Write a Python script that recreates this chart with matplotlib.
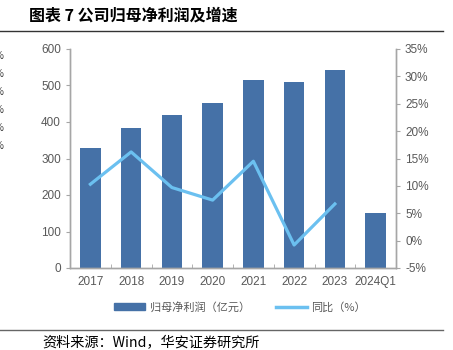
import matplotlib
matplotlib.use("Agg")
import matplotlib.pyplot as plt
import numpy as np
from matplotlib.lines import Line2D
from matplotlib.patches import Patch

plt.rcParams['font.family'] = ['Noto Sans CJK SC', 'DejaVu Sans']

# 数据
years = ['2017', '2018', '2019', '2020', '2021', '2022', '2023', '2024Q1']
profit = [330, 383, 420, 451, 515, 510, 543, 150]      # 归母净利润（亿元）
growth = [10.3, 16.2, 9.7, 7.4, 14.5, -0.8, 6.7]       # 同比（%）
left_ticks = [0, 100, 200, 300, 400, 500, 600]
right_ticks = [-5, 0, 5, 10, 15, 20, 25, 30, 35]

bar_color = '#4571a7'
line_color = '#6bc0f0'
tick_color = '#595959'
spine_color = '#a6a6a6'
num_font = 'Liberation Sans'

fig = plt.figure(figsize=(4.53, 3.5), dpi=100)
ax = fig.add_axes([70 / 453, 1 - 268 / 350, 326 / 453, 219 / 350])
x = np.arange(len(years))
ax.bar(x, profit, width=0.5, color=bar_color, zorder=2)
ax.set_xlim(-0.5, len(years) - 0.5)
ax.set_ylim(0, 600)
ax.set_yticks(left_ticks)
ax.set_xticks(x)
ax.set_xticklabels(years)
ax.set_xticks(np.arange(len(years) + 1) - 0.5, minor=True)
ax.tick_params(axis='x', which='major', length=0, pad=6)
ax.tick_params(axis='x', which='minor', length=3, direction='in', color=spine_color)
ax.tick_params(axis='y', length=3, color=spine_color)
ax.tick_params(labelsize=8.5, labelcolor=tick_color)

ax2 = ax.twinx()
ax2.plot(x[:len(growth)], growth, color=line_color, lw=2.3, zorder=3)
ax2.set_ylim(-5, 35)
ax2.set_yticks(right_ticks)
ax2.set_yticklabels([f'{t}%' for t in right_ticks])
ax2.tick_params(axis='y', length=3, color=spine_color, labelsize=8.5, labelcolor=tick_color)

for a in (ax, ax2):
    a.spines['top'].set_visible(False)
    for s in ('left', 'right', 'bottom'):
        a.spines[s].set_color(spine_color)
        a.spines[s].set_linewidth(1)
    for lab in a.get_xticklabels() + a.get_yticklabels():
        lab.set_fontfamily(num_font)

# 图例
handles = [Patch(color=bar_color), Line2D([], [], color=line_color, lw=2.5)]
fig.legend(handles, ['归母净利润（亿元）', '同比（%）'], loc='center',
           bbox_to_anchor=(240 / 453, 1 - 307 / 350), ncol=2, frameon=False,
           fontsize=8, labelcolor=tick_color, handlelength=2.8,
           handleheight=0.5, columnspacing=2.3, handletextpad=0.4)

# 标题与来源
fig.text(29 / 453, 1 - 16 / 350, '图表 7 公司归母净利润及增速', fontsize=11.5,
         fontweight='bold', va='center', ha='left')
fig.add_artist(Line2D([0, 443 / 453], [1 - 31 / 350] * 2, color='#333333', lw=1))
fig.add_artist(Line2D([0, 443 / 453], [1 - 330 / 350] * 2, color='#666666', lw=1))
fig.text(42 / 453, 1 - 343 / 350, '资料来源：Wind，华安证券研究所', fontsize=10.2,
         va='center', ha='left')

# 左侧截断的残留符号
for i in range(6):
    fig.text(-5 / 453, 1 - (56 + 18 * i) / 350, '%', fontsize=7,
             color='#333333', va='center', ha='left')

fig.savefig('out.png', dpi=100)
